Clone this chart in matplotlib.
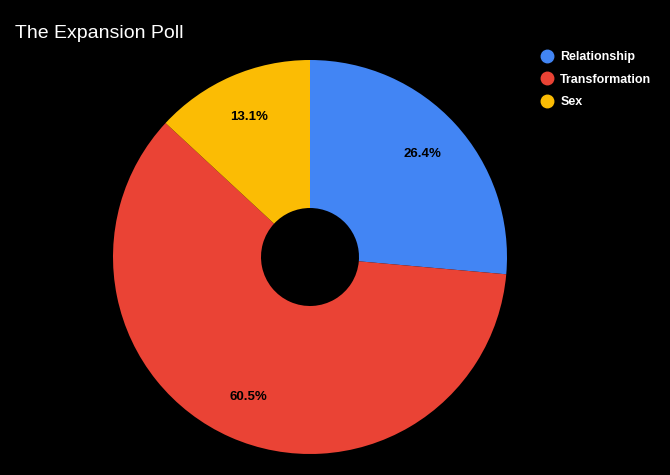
import matplotlib.pyplot as plt
from matplotlib.lines import Line2D

plt.rcParams['font.family'] = ['Liberation Sans', 'DejaVu Sans']

labels = ['Relationship', 'Transformation', 'Sex']
values = [26.4, 60.5, 13.1]
colors = ['#4285f4', '#ea4335', '#fbbc04']

W, H = 670, 475
fig = plt.figure(figsize=(W / 100, H / 100), dpi=100, facecolor='black')

# pie centre (310, 257), radius 197 px
cx, cy, r = 310, 257, 197
ax = fig.add_axes([(cx - r) / W, (H - cy - r) / H, 2 * r / W, 2 * r / H])
ax.set_facecolor('black')

wedges, texts, autotexts = ax.pie(
    values, colors=colors, startangle=90, counterclock=False,
    autopct='%.1f%%', pctdistance=0.775, radius=1,
    wedgeprops=dict(width=1 - 49 / 197, linewidth=0),
)
for t in autotexts:
    t.set_color('black')
    t.set_fontsize(9.5)
    t.set_fontweight('bold')
ax.set_xlim(-1, 1)
ax.set_ylim(-1, 1)
ax.set_aspect('equal')
ax.axis('off')

fig.text(15 / W, 1 - 33 / H, 'The Expansion Poll', color='white',
         fontsize=14, va='center', ha='left')

handles = [Line2D([], [], marker='o', linestyle='none', markersize=9,
                  markerfacecolor=c, markeredgecolor=c) for c in colors]
leg = fig.legend(handles, labels, loc='upper left',
                 bbox_to_anchor=(534 / W, 1 - 46 / H), frameon=False,
                 labelcolor='white', handletextpad=0.5, labelspacing=0.85,
                 handlelength=1.2, borderaxespad=0,
                 prop=dict(size=9, weight='bold'))

fig.savefig('out.png', dpi=100, facecolor='black')
